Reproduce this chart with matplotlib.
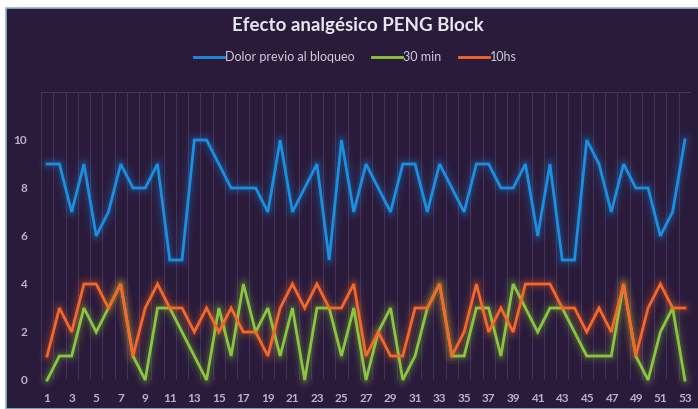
import matplotlib
matplotlib.use("Agg")
import matplotlib.pyplot as plt
from matplotlib.patches import Rectangle
import numpy as np

title = "Efecto analgésico PENG Block"
series_names = ["Dolor previo al bloqueo", "30 min", "10hs"]
x_vals = list(range(1, 54))
dolor_previo = [9, 9, 7, 9, 6, 7, 9, 8, 8, 9, 5, 5, 10, 10, 9, 8, 8, 8, 7, 10,
                7, 8, 9, 5, 10, 7, 9, 8, 7, 9, 9, 7, 9, 8, 7, 9, 9, 8, 8, 9,
                6, 9, 5, 5, 10, 9, 7, 9, 8, 8, 6, 7, 10]
min30 = [0, 1, 1, 3, 2, 3, 4, 1, 0, 3, 3, 2, 1, 0, 3, 1, 4, 2, 3, 1,
         3, 0, 3, 3, 1, 3, 0, 2, 3, 0, 1, 3, 4, 1, 1, 3, 3, 1, 4, 3,
         2, 3, 3, 2, 1, 1, 1, 4, 1, 0, 2, 3, 0]
hs10 = [1, 3, 2, 4, 4, 3, 4, 1, 3, 4, 3, 3, 2, 3, 2, 3, 2, 2, 1, 3,
        4, 3, 4, 3, 3, 4, 1, 2, 1, 1, 3, 3, 4, 1, 2, 4, 2, 3, 2, 4,
        4, 4, 3, 3, 2, 3, 2, 4, 1, 3, 4, 3, 3]
x_tick_labels = [str(v) for v in range(1, 54, 2)]
y_ticks = [0, 2, 4, 6, 8, 10]

W, H = 698, 409
fig = plt.figure(figsize=(W / 100, H / 100), dpi=100)
fig.patch.set_facecolor("white")
bg = "#2a1b3b"
fig.patches.append(Rectangle((6 / W, 0), 1, (H - 8) / H, transform=fig.transFigure,
                             facecolor=bg, edgecolor="#8fb8cc", lw=1.2, zorder=-5))

ax = fig.add_axes([41 / W, (H - 380) / H, 650 / W, 288 / H])
ax.set_facecolor(bg)
ax.patch.set_alpha(0)

colors = ["#1b8fe0", "#8cc63f", "#f4682a"]
data = [dolor_previo, min30, hs10]

for ys, c in zip(data, colors):
    for lw, a in [(12, 0.05), (8, 0.08), (5, 0.12)]:
        ax.plot(x_vals, ys, color=c, lw=lw, alpha=a, solid_joinstyle="round",
                solid_capstyle="round", zorder=2, clip_on=False)
lines = []
for ys, c, name in zip(data, colors, series_names):
    ln, = ax.plot(x_vals, ys, color=c, lw=2.0, label=name, zorder=3,
                  solid_joinstyle="miter", clip_on=False)
    lines.append(ln)

ax.set_xlim(0.5, 53.5)
ax.set_ylim(0, 12)
ax.set_xticks(range(1, 54, 2))
ax.set_xticklabels(x_tick_labels)
ax.set_xticks(np.arange(0.5, 54, 1), minor=True)
ax.set_yticks(y_ticks)
ax.set_yticks([0, 2, 4, 6, 8, 10, 12], minor=True)
ax.grid(False)
ax.grid(which="minor", axis="x", color="#41335a", lw=0.8)
ax.grid(which="minor", axis="y", color="#45365a", lw=0.8)
for s in ax.spines.values():
    s.set_visible(False)
ax.tick_params(which="both", length=0)
ax.tick_params(axis="x", pad=9, labelsize=8.5, labelcolor="#b9b3cc")
ax.tick_params(axis="y", pad=10, labelsize=8.5, labelcolor="#b9b3cc")
for t in ax.get_xticklabels() + ax.get_yticklabels():
    t.set_fontfamily("Lato")
    t.set_fontweight("bold")

fig.text(0.513, (H - 25) / H, title, ha="center", va="center", color="#e8e6f0",
         fontsize=13.5, fontweight="bold", family="Lato")
leg = fig.legend(handles=lines, loc="center", bbox_to_anchor=(0.509, (H - 57) / H),
                 ncol=3, frameon=False, handlelength=2.4,
                 handletextpad=0.1, columnspacing=1.4,
                 prop={"family": "Lato", "size": 9})
for t in leg.get_texts():
    t.set_color("#d0ccdc")

fig.savefig("out.png", dpi=100, facecolor=fig.get_facecolor())
